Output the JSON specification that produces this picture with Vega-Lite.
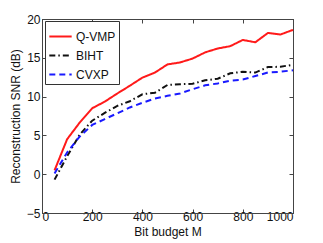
{
  "$schema": "https://vega.github.io/schema/vega-lite/v6.json",
  "width": 251,
  "height": 194,
  "autosize": {"type": "none"},
  "padding": {"left": 42, "top": 19, "right": 30, "bottom": 30},
  "background": "white",
  "config": {
    "font": "Liberation Sans",
    "view": {"stroke": "#444", "strokeWidth": 1},
    "axis": {"grid": false, "domainColor": "#444", "tickColor": "#444", "labelColor": "#111", "titleColor": "#111", "labelFontSize": 12, "titleFontSize": 12, "titleFontWeight": "normal", "tickSize": -4, "labelPadding": 6}
  },
  "data": {"values": [
    {"M":50,"s":"Q-VMP","v":0.5},{"M":100,"s":"Q-VMP","v":4.5},{"M":150,"s":"Q-VMP","v":6.65},{"M":200,"s":"Q-VMP","v":8.5},{"M":250,"s":"Q-VMP","v":9.35},{"M":300,"s":"Q-VMP","v":10.4},{"M":350,"s":"Q-VMP","v":11.4},{"M":400,"s":"Q-VMP","v":12.45},{"M":450,"s":"Q-VMP","v":13.1},{"M":500,"s":"Q-VMP","v":14.15},{"M":550,"s":"Q-VMP","v":14.4},{"M":600,"s":"Q-VMP","v":14.9},{"M":650,"s":"Q-VMP","v":15.7},{"M":700,"s":"Q-VMP","v":16.2},{"M":750,"s":"Q-VMP","v":16.5},{"M":800,"s":"Q-VMP","v":17.3},{"M":850,"s":"Q-VMP","v":17.0},{"M":900,"s":"Q-VMP","v":18.2},{"M":950,"s":"Q-VMP","v":18.0},{"M":1000,"s":"Q-VMP","v":18.6},
    {"M":50,"s":"BIHT","v":-0.7},{"M":100,"s":"BIHT","v":2.3},{"M":150,"s":"BIHT","v":5.1},{"M":200,"s":"BIHT","v":6.9},{"M":250,"s":"BIHT","v":7.9},{"M":300,"s":"BIHT","v":8.8},{"M":350,"s":"BIHT","v":9.4},{"M":400,"s":"BIHT","v":10.3},{"M":450,"s":"BIHT","v":10.5},{"M":500,"s":"BIHT","v":11.5},{"M":550,"s":"BIHT","v":11.6},{"M":600,"s":"BIHT","v":11.65},{"M":650,"s":"BIHT","v":12.1},{"M":700,"s":"BIHT","v":12.3},{"M":750,"s":"BIHT","v":13.0},{"M":800,"s":"BIHT","v":13.2},{"M":850,"s":"BIHT","v":13.1},{"M":900,"s":"BIHT","v":13.8},{"M":950,"s":"BIHT","v":13.85},{"M":1000,"s":"BIHT","v":14.1},
    {"M":50,"s":"CVXP","v":0.1},{"M":100,"s":"CVXP","v":2.8},{"M":150,"s":"CVXP","v":4.85},{"M":200,"s":"CVXP","v":6.35},{"M":250,"s":"CVXP","v":7.1},{"M":300,"s":"CVXP","v":7.85},{"M":350,"s":"CVXP","v":8.6},{"M":400,"s":"CVXP","v":9.2},{"M":450,"s":"CVXP","v":9.75},{"M":500,"s":"CVXP","v":10.1},{"M":550,"s":"CVXP","v":10.4},{"M":600,"s":"CVXP","v":10.95},{"M":650,"s":"CVXP","v":11.45},{"M":700,"s":"CVXP","v":11.7},{"M":750,"s":"CVXP","v":12.05},{"M":800,"s":"CVXP","v":12.2},{"M":850,"s":"CVXP","v":12.65},{"M":900,"s":"CVXP","v":13.1},{"M":950,"s":"CVXP","v":13.2},{"M":1000,"s":"CVXP","v":13.4}
  ]},
  "layer": [
    {
      "mark": {"type": "line", "strokeWidth": 2},
      "encoding": {
        "x": {"field": "M", "type": "quantitative", "scale": {"domain": [0, 1000], "nice": false}, "axis": {"values": [0,200,400,600,800,1000], "format": "d", "labelPadding": 2, "title": "Bit budget M", "titlePadding": 4}},
        "y": {"field": "v", "type": "quantitative", "scale": {"domain": [-5, 20], "nice": false}, "axis": {"values": [-5,0,5,10,15,20], "format": "d", "title": "Reconstruction SNR (dB)", "titlePadding": 4}},
        "color": {"field": "s", "type": "nominal", "scale": {"domain": ["Q-VMP","BIHT","CVXP"], "range": ["#ff1a1a","#111111","#1a1aff"]}, "legend": {"title": null, "orient": "none", "legendX": 3, "legendY": 2, "symbolType": "stroke", "symbolSize": 500, "symbolStrokeWidth": 2, "labelFontSize": 12, "labelColor": "#111", "rowPadding": 0, "padding": 3, "strokeColor": "#333", "fillColor": "white", "labelOffset": 3}},
        "strokeDash": {"field": "s", "type": "nominal", "scale": {"domain": ["Q-VMP","BIHT","CVXP"], "range": [[1,0],[6,3,1.5,3],[6,4]]}, "legend": {"title": null}}
      }
    },
    {
      "mark": {"type": "line", "opacity": 0},
      "encoding": {
        "x": {"field": "M", "type": "quantitative", "scale": {"domain": [0, 1000], "nice": false}, "axis": {"orient": "top", "values": [0,200,400,600,800,1000], "labels": false, "title": null}},
        "y": {"field": "v", "type": "quantitative", "scale": {"domain": [-5, 20], "nice": false}, "axis": {"orient": "right", "values": [-5,0,5,10,15,20], "labels": false, "title": null}}
      }
    }
  ],
  "resolve": {"axis": {"x": "independent", "y": "independent"}}
}
